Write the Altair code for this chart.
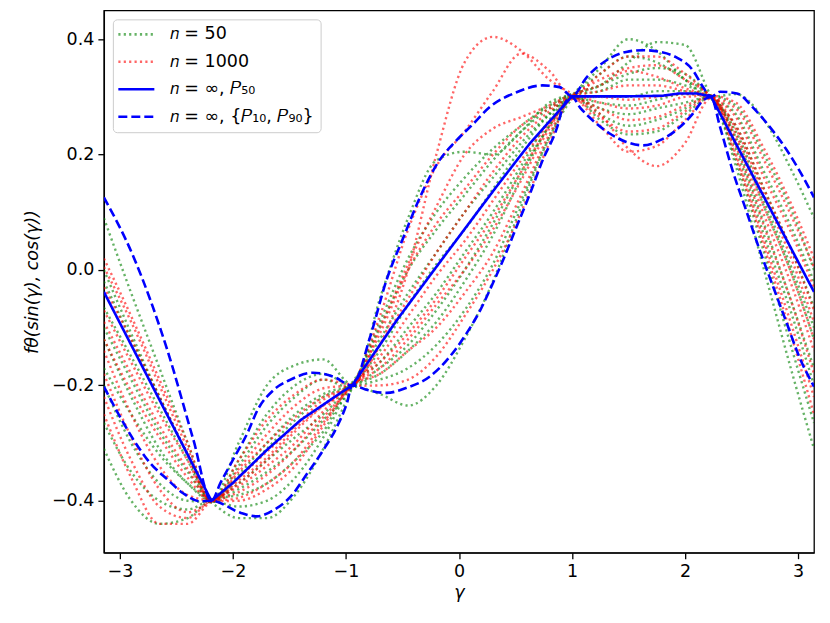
import math
import pandas as pd
import altair as alt

PI = math.pi

# grid of gamma positions for the sampled (dotted) curves
GRID = [-PI, -2.9, -2.65, -2.4, -2.19, -1.95, -1.7, -1.45, -1.2, -0.945,
        -0.7, -0.45, -0.2, 0.05, 0.3, 0.55, 0.8, 1.0, 1.25, 1.5, 1.75, 2.0,
        2.23, 2.45, 2.7, 2.95, PI]

# n = 50 curves (green)
G1 = [0.09, -0.04, -0.17, -0.30, -0.40, -0.30, -0.20, -0.165, -0.155, -0.198,
      -0.17, -0.13, -0.07, 0.0, 0.08, 0.17, 0.25, 0.302, 0.35, 0.40, 0.38, 0.33,
      0.30, 0.305, 0.26, 0.17, 0.09]
G2 = [-0.065, -0.15, -0.24, -0.33, -0.402, -0.34, -0.27, -0.22, -0.19, -0.205,
      -0.05, 0.09, 0.19, 0.205, 0.20, 0.24, 0.29, 0.305, 0.32, 0.36, 0.395, 0.39,
      0.302, 0.25, 0.14, 0.03, -0.065]
G3 = [-0.10, -0.19, -0.28, -0.35, -0.398, -0.37, -0.33, -0.29, -0.25, -0.195,
      -0.12, -0.04, 0.03, 0.10, 0.16, 0.22, 0.27, 0.298, 0.30, 0.30, 0.31, 0.31,
      0.298, 0.24, 0.12, 0.0, -0.10]
G4 = [-0.17, -0.25, -0.32, -0.37, -0.403, -0.43, -0.43, -0.39, -0.31, -0.205,
      -0.10, 0.0, 0.07, 0.13, 0.19, 0.24, 0.28, 0.303, 0.27, 0.25, 0.26, 0.28,
      0.303, 0.22, 0.08, -0.06, -0.17]
G5 = [-0.265, -0.35, -0.40, -0.415, -0.397, -0.39, -0.37, -0.33, -0.28, -0.202,
      -0.215, -0.235, -0.20, -0.12, -0.02, 0.11, 0.23, 0.297, 0.34, 0.37, 0.36, 0.33,
      0.298, 0.19, 0.03, -0.14, -0.265]
G6 = [-0.31, -0.40, -0.44, -0.43, -0.401, -0.41, -0.40, -0.36, -0.29, -0.198,
      -0.16, -0.10, -0.04, 0.03, 0.10, 0.18, 0.26, 0.30, 0.28, 0.27, 0.28, 0.29,
      0.30, 0.18, 0.0, -0.18, -0.31]
G7 = [-0.02, -0.12, -0.22, -0.32, -0.399, -0.33, -0.25, -0.20, -0.18, -0.20,
      -0.19, -0.17, -0.13, -0.07, 0.01, 0.12, 0.23, 0.30, 0.32, 0.34, 0.35, 0.34,
      0.301, 0.27, 0.17, 0.07, -0.02]
G8 = [-0.12, -0.22, -0.31, -0.37, -0.40, -0.36, -0.31, -0.26, -0.22, -0.197,
      -0.14, -0.06, 0.01, 0.07, 0.14, 0.21, 0.27, 0.302, 0.26, 0.235, 0.24, 0.27,
      0.299, 0.23, 0.11, -0.01, -0.12]
G9 = [-0.20, -0.30, -0.37, -0.40, -0.402, -0.38, -0.35, -0.31, -0.26, -0.203,
      -0.09, 0.02, 0.10, 0.16, 0.21, 0.25, 0.285, 0.304, 0.31, 0.33, 0.33, 0.32,
      0.30, 0.21, 0.06, -0.08, -0.20]
G10 = [0.0, -0.11, -0.22, -0.32, -0.398, -0.355, -0.30, -0.25, -0.215, -0.20,
       -0.18, -0.14, -0.09, -0.02, 0.06, 0.16, 0.25, 0.299, 0.29, 0.285, 0.295, 0.305,
       0.302, 0.285, 0.20, 0.10, 0.0]

# n = 1000 curves (red)
R1 = [0.005, -0.09, -0.20, -0.31, -0.40, -0.35, -0.30, -0.255, -0.22, -0.20,
      -0.13, 0.0, 0.20, 0.36, 0.404, 0.38, 0.33, 0.305, 0.27, 0.21, 0.18, 0.22,
      0.298, 0.28, 0.19, 0.09, 0.005]
R2 = [-0.07, -0.16, -0.25, -0.33, -0.401, -0.37, -0.33, -0.28, -0.235, -0.20,
      -0.08, 0.07, 0.18, 0.24, 0.31, 0.375, 0.345, 0.302, 0.34, 0.37, 0.37, 0.34,
      0.30, 0.25, 0.14, 0.03, -0.07]
R3 = [-0.09, -0.18, -0.27, -0.345, -0.40, -0.36, -0.315, -0.27, -0.225, -0.198,
      -0.11, 0.0, 0.08, 0.14, 0.20, 0.25, 0.28, 0.298, 0.25, 0.205, 0.215, 0.26,
      0.30, 0.245, 0.13, 0.015, -0.09]
R4 = [-0.14, -0.25, -0.34, -0.39, -0.399, -0.385, -0.355, -0.31, -0.255, -0.202,
      -0.15, -0.08, -0.01, 0.05, 0.12, 0.19, 0.255, 0.30, 0.31, 0.32, 0.32, 0.31,
      0.301, 0.225, 0.095, -0.03, -0.14]
R5 = [-0.22, -0.33, -0.41, -0.43, -0.401, -0.40, -0.38, -0.34, -0.27, -0.20,
      -0.18, -0.14, -0.10, -0.04, 0.03, 0.13, 0.235, 0.297, 0.28, 0.26, 0.265, 0.285,
      0.299, 0.20, 0.05, -0.10, -0.22]
R6 = [-0.12, -0.21, -0.29, -0.36, -0.40, -0.345, -0.285, -0.235, -0.205, -0.199,
      -0.13, -0.05, 0.03, 0.10, 0.17, 0.23, 0.275, 0.303, 0.33, 0.35, 0.355, 0.33,
      0.30, 0.235, 0.11, -0.01, -0.12]
R7 = [-0.18, -0.29, -0.38, -0.42, -0.40, -0.375, -0.34, -0.30, -0.245, -0.201,
      -0.20, -0.19, -0.15, -0.08, 0.0, 0.10, 0.22, 0.296, 0.265, 0.24, 0.245, 0.275,
      0.30, 0.215, 0.075, -0.06, -0.18]
R8 = [0.02, -0.08, -0.19, -0.30, -0.399, -0.33, -0.26, -0.215, -0.19, -0.198,
      -0.10, 0.01, 0.11, 0.20, 0.245, 0.265, 0.285, 0.302, 0.29, 0.28, 0.285, 0.30,
      0.302, 0.29, 0.21, 0.11, 0.02]
R9 = [-0.03, -0.12, -0.22, -0.32, -0.40, -0.365, -0.325, -0.275, -0.235, -0.20,
      -0.16, -0.11, -0.05, 0.02, 0.09, 0.17, 0.25, 0.30, 0.32, 0.345, 0.335, 0.315,
      0.30, 0.265, 0.16, 0.06, -0.03]
R10 = [-0.25, -0.36, -0.44, -0.44, -0.402, -0.395, -0.37, -0.33, -0.265, -0.20,
       -0.17, -0.12, -0.06, 0.0, 0.07, 0.155, 0.245, 0.299, 0.30, 0.295, 0.30, 0.305,
       0.30, 0.195, 0.04, -0.12, -0.25]

GREEN = [G1, G2, G3, G4, G5, G6, G7, G8, G9, G10]
RED = [R1, R2, R3, R4, R5, R6, R7, R8, R9, R10]

# n = infinity, median
P50_X = [-PI, -2.19, -2.0, -1.7, -1.4, -1.1, -0.945, -0.55, -0.11, 0.33, 0.63,
         1.0, 1.5, 1.8, 1.95, 2.1, 2.23, PI]
P50_Y = [-0.038, -0.40, -0.369, -0.312, -0.260, -0.220, -0.20, -0.087, 0.029,
         0.144, 0.220, 0.301, 0.301, 0.302, 0.306, 0.306, 0.301, -0.038]

# n = infinity, P90 (upper dashed)
P90_X = [-PI, -2.88, -2.58, -2.35, -2.19, -2.11, -2.0, -1.87, -1.78, -1.64, -1.49,
         -1.29, -1.11, -0.945, -0.786, -0.64, -0.49, -0.345, -0.19, -0.02, 0.13,
         0.27, 0.51, 0.74, 0.89, 1.0, 1.13, 1.31, 1.48, 1.63, 1.78, 1.92, 2.07,
         2.16, 2.23, 2.31, 2.46, 2.60, 2.75, 2.90, 3.01, PI]
P90_Y = [0.126, 0.023, -0.139, -0.294, -0.40, -0.369, -0.329, -0.282, -0.242,
         -0.208, -0.190, -0.178, -0.185, -0.20, -0.116, -0.017, 0.057, 0.126,
         0.185, 0.225, 0.254, 0.282, 0.308, 0.320, 0.317, 0.301, 0.334, 0.364,
         0.378, 0.381, 0.378, 0.369, 0.346, 0.317, 0.30, 0.309, 0.306, 0.282,
         0.248, 0.208, 0.173, 0.126]

# n = infinity, P10 (lower dashed)
P10_X = [-PI, -3.0, -2.88, -2.73, -2.58, -2.44, -2.29, -2.19, -1.93, -1.79, -1.64,
         -1.49, -1.34, -1.20, -1.08, -0.99, -0.945, -0.81, -0.64, -0.46, -0.26,
         -0.08, 0.07, 0.19, 0.30, 0.39, 0.51, 0.63, 0.74, 0.87, 0.92, 1.0, 1.07,
         1.18, 1.33, 1.48, 1.63, 1.78, 1.92, 2.07, 2.16, 2.23, 2.31, 2.42, 2.54,
         2.66, 2.78, 2.90, 3.01, PI]
P10_Y = [-0.202, -0.254, -0.294, -0.335, -0.363, -0.387, -0.401, -0.40, -0.421,
         -0.427, -0.416, -0.393, -0.352, -0.312, -0.272, -0.230, -0.20, -0.208,
         -0.213, -0.204, -0.185, -0.150, -0.109, -0.069, -0.023, 0.017, 0.075,
         0.133, 0.190, 0.248, 0.282, 0.30, 0.282, 0.260, 0.237, 0.222, 0.216,
         0.225, 0.242, 0.271, 0.294, 0.30, 0.248, 0.173, 0.104, 0.035, -0.029,
         -0.092, -0.150, -0.202]

L50 = "𝑛 = 50"
L1000 = "𝑛 = 1000"
LMED = "𝑛 = ∞, 𝑃₅₀"
LPCT = "𝑛 = ∞, {𝑃₁₀, 𝑃₉₀}"
LABELS = [L50, L1000, LMED, LPCT]

rows = []
for i, ys in enumerate(GREEN):
    for x, y in zip(GRID, ys):
        rows.append({"x": x, "y": y, "curve": f"g{i}", "label": L50})
for i, ys in enumerate(RED):
    for x, y in zip(GRID, ys):
        rows.append({"x": x, "y": y, "curve": f"r{i}", "label": L1000})
dotted = pd.DataFrame(rows)

rows = []
for x, y in zip(P50_X, P50_Y):
    rows.append({"x": x, "y": y, "curve": "p50", "label": LMED})
solid = pd.DataFrame(rows)

rows = []
for x, y in zip(P90_X, P90_Y):
    rows.append({"x": x, "y": y, "curve": "p90", "label": LPCT})
for x, y in zip(P10_X, P10_Y):
    rows.append({"x": x, "y": y, "curve": "p10", "label": LPCT})
dashed = pd.DataFrame(rows)

xscale = alt.Scale(domain=[-PI, PI], nice=False, zero=False)
yscale = alt.Scale(domain=[-0.49, 0.45], nice=False, zero=False)

xenc = alt.X("x:Q", scale=xscale,
             axis=alt.Axis(values=[-3, -2, -1, 0, 1, 2, 3], format="d", title="γ",
                           titleFontStyle="italic"))
yenc = alt.Y("y:Q", scale=yscale,
             axis=alt.Axis(values=[-0.4, -0.2, 0.0, 0.2, 0.4], format=".1f",
                           title="fθ(sin(γ), cos(γ))", titleFontStyle="italic"))

legend = alt.Legend(title=None, orient="top-left", offset=9,
                    symbolType="stroke", symbolSize=1300, symbolStrokeWidth=2.6,
                    labelFontSize=17.5, labelFont="DejaVu Sans", rowPadding=5.5,
                    clipHeight=22,
                    fillColor="white", strokeColor="#cccccc", padding=4,
                    cornerRadius=4, labelOffset=14)

color = alt.Color("label:N", scale=alt.Scale(domain=LABELS,
                  range=["rgba(0,128,0,0.6)", "rgba(255,0,0,0.6)",
                         "#0000ff", "#0000ff"]), legend=legend)
dash = alt.StrokeDash("label:N", scale=alt.Scale(domain=LABELS,
                      range=[[2.2, 3.2], [2.2, 3.2], [1, 0], [9, 4]]), legend=legend)

dot_layer = alt.Chart(dotted).mark_line(interpolate="monotone", strokeWidth=2.4,
                                        clip=True).encode(
    x=xenc, y=yenc, color=color, strokeDash=dash, detail="curve:N")

solid_layer = alt.Chart(solid).mark_line(strokeWidth=2.6, clip=True).encode(
    x=xenc, y=yenc, color=color, strokeDash=dash, detail="curve:N")

dash_layer = alt.Chart(dashed).mark_line(interpolate="monotone", strokeWidth=2.6,
                                         clip=True).encode(
    x=xenc, y=yenc, color=color, strokeDash=dash, detail="curve:N")

chart = alt.layer(dot_layer, solid_layer, dash_layer).properties(
    width=711, height=543,
    autosize=alt.AutoSizeParams(type="none"),
    padding={"left": 96, "top": 2, "right": 8, "bottom": 60},
).configure_view(stroke="black", strokeWidth=1.3).configure_axis(
    grid=False, domainColor="black", tickColor="black", labelColor="black",
    titleColor="black", labelFont="DejaVu Sans", titleFont="DejaVu Sans",
    labelFontSize=17.5, titleFontSize=17.5, titleFontWeight="normal",
    tickSize=6, labelPadding=4, domainWidth=1.3, tickWidth=1.3
).configure_axisY(titlePadding=10).configure_axisX(titlePadding=3)

chart.save("out.html", embed_options={"renderer": "svg", "actions": False})
